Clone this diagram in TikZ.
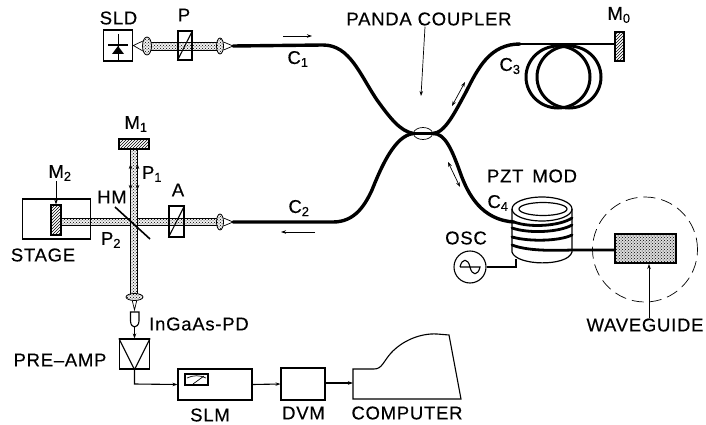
\documentclass[tikz,border=0pt]{standalone}
\usepackage{fontspec}
\setmainfont[LetterSpace=4,FakeBold=0.35]{Liberation Sans}
\usepackage{tikz}
\usetikzlibrary{calc,arrows.meta,patterns,shapes.geometric}

\begin{document}
\begin{tikzpicture}[x=1pt, y=-1pt, >={Stealth[length=5pt,width=3.5pt]},
  lab/.style={font=\fontsize{18.5}{18.5}\selectfont, inner sep=0pt},
  unit/.style={draw, line width=1.1pt, inner sep=0pt},
  fibre/.style={line width=3.4pt, line cap=round},
  thinline/.style={line width=0.7pt},
  dotted fill/.style={preaction={fill=black!6}, pattern=crosshatch dots},
  beam/.style={draw, line width=0.7pt, dotted fill},
  lens/.style={draw, ellipse, line width=0.8pt, inner sep=0pt, dotted fill},
  mirror/.style={unit, pattern=north east lines},
  wire/.style={line width=1.1pt}]
  \useasboundingbox (0,0) rectangle (706,425);

  % Beams
  \path[beam] (147,42) rectangle (220,50);
  \path[beam] (61,218) rectangle (220,225);
  \path[beam] (130,149) rectangle (137.5,294);

  % Source arm
  \node[unit, minimum width=29.5pt, minimum height=31pt] (sld) at (118,45.5) {};
  \node[lab] (sldlab) at (118.5,18) {SLD};
  \node[unit, minimum width=14pt, minimum height=29pt] (pol) at (185,45.5) {};
  \node[lab] (pollab) at (184,15) {P};
  \draw[wire] (pol.south west) -- (pol.north east);
  \node[lens, minimum width=9pt, minimum height=18pt] (lensa) at (147,46) {};
  \node[lens, minimum width=7pt, minimum height=16pt] (lensb) at (220,46) {};
  \coordinate (tipb) at (233,46);
  \draw[thinline] (lensa.130) -- (sld.east) -- (lensa.230);
  \draw[thinline] (lensb.50) -- (tipb) -- (lensb.-50);
  % Diode
  \draw[thinline] (118,34) -- (118,60);
  \draw[wire] (108,45) -- (128,45);
  \fill (118,46) -- (124,54) -- (112,54) -- cycle;

  % Reference arm
  \node[mirror, minimum width=30pt, minimum height=10pt] (mone) at (134,144) {};
  \node[lab] (monelab) at (136,124) {M\textsubscript{1}};
  \draw[<->, thinline] (130.5,164) -- (130.5,190);
  \draw[<->, thinline] (137.5,164) -- (137.5,190);
  \node[lab] (ponelab) at (152,174) {P\textsubscript{1}};
  \node[lab] (hmlab) at (112,197) {HM};
  \coordinate (hma) at (115,207);
  \coordinate (hmb) at (150,239);
  \draw[line width=1.6pt] (hma) -- (hmb);

  % Stage arm
  \node[unit, minimum width=68pt, minimum height=40pt] (stage) at (56.5,219) {};
  \node[mirror, minimum width=10pt, minimum height=30pt] (mtwo) at (56,220) {};
  \node[lab] (mtwolab) at (60,173) {M\textsubscript{2}};
  \draw[->, thinline] (mtwolab.south -| mtwo) -- (mtwo.north);
  \node[lab] (ptwolab) at (111,240) {P\textsubscript{2}};
  \node[lab] (stagelab) at (43,255) {STAGE};
  \node[unit, minimum width=15pt, minimum height=31pt] (ana) at (176.5,221.5) {};
  \node[lab] (analab) at (178,190) {A};
  \draw[wire] (ana.south west) -- (ana.north east);
  \node[lens, minimum width=7pt, minimum height=16pt] (lensc) at (220,222) {};
  \coordinate (tipc) at (233,222);
  \draw[thinline] (lensc.50) -- (tipc) -- (lensc.-50);

  % Fibres and coupler
  \node[draw, ellipse, thinline, minimum width=19pt, minimum height=12pt, inner sep=0pt] (coupler) at (423,133.5) {};
  \draw[fibre] (tipb) -- (323,45) .. controls (350,45) and (360,75) .. (377,100)
    .. controls (390,118) and (400,131) .. (coupler.west);
  \draw[fibre] (tipc) -- (333,222) .. controls (355,222) and (365,205) .. (372,190)
    .. controls (382,165) and (395,136) .. (coupler.west);
  \draw[fibre] (coupler.west) -- (coupler.east);
  \draw[fibre] (coupler.east) .. controls (445,133) and (455,112) .. (466,92)
    .. controls (478,68) and (490,44) .. (520,44);
  \coordinate (cfour) at (514,222);
  \draw[fibre] (coupler.east) .. controls (445,133) and (452,150) .. (460,172)
    .. controls (468,195) and (482,220) .. (cfour);
  \node[lab] (panda) at (429,19) {PANDA COUPLER};
  \coordinate (pandatip) at (421,96);
  \draw[->, thinline] (panda.south) ++(-4,1) -- (pandatip);
  \node[lab] (conelab) at (298,59) {C\textsubscript{1}};
  \node[lab] (ctwolab) at (299,208) {C\textsubscript{2}};
  \node[lab] (cthreelab) at (510,66) {C\textsubscript{3}};
  \node[lab] (cfourlab) at (498,203) {C\textsubscript{4}};
  \draw[->, thinline] (283,36) -- (312,36);
  \draw[->, thinline] (315,232) -- (281,232);
  \draw[<->, thinline] (452,106) -- (465,82);
  \draw[<->, thinline] (448,162) -- (460,187);

  % Delay coil
  \node[mirror, minimum width=9pt, minimum height=29pt] (mzero) at (619.5,46.5) {};
  \node[lab] (mzerolab) at (619,15) {M\textsubscript{0}};
  \coordinate (cthreeend) at (518,44);
  \draw[line width=2.6pt] (cthreeend) -- (cthreeend -| mzero.west);
  \draw[line width=3pt] (558,77) ellipse (32 and 31);
  \draw[line width=3pt] (569,77) ellipse (32 and 31);

  % PZT modulator
  \node[lab] (pztlab) at (532,176) {PZT\, MOD};
  \draw[line width=1.2pt] (542,209) ellipse (30 and 12);
  \draw[line width=1.2pt] (543,209) ellipse (24 and 6.5);
  \draw[line width=1.2pt] (512,209) -- (512,252) .. controls (516,266) and (568,267) .. (572,252) -- (572,209);
  \draw[fibre, line width=2.8pt] (cfour) .. controls (530,228) and (560,226) .. (572,218);
  \draw[fibre, line width=2.8pt] (512,228) .. controls (530,234) and (560,232) .. (572,225);
  \draw[fibre, line width=2.8pt] (512,237) .. controls (530,242) and (560,241) .. (572,235);
  \node[unit, preaction={fill=black!14}, pattern=crosshatch dots, minimum width=61pt, minimum height=29pt] (guide) at (645.5,248.5) {};
  \coordinate (coilout) at (572,250);
  \draw[fibre, line width=2.8pt] (512,245) .. controls (525,250) and (545,251) .. (coilout) -- (coilout -| guide.west);
  \node[lab] (guidelab) at (645,325) {WAVEGUIDE};
  \coordinate (guidetip) at (649,264);
  \draw[->, thinline] (guidetip |- guidelab.north) -- (guidetip);
  \node[draw, circle, dash pattern=on 12pt off 6pt, thinline, minimum size=105pt, inner sep=0pt] (ring) at (645,249.5) {};

  % Oscillator
  \node[draw, circle, wire, minimum size=32pt, inner sep=0pt] (osc) at (470,267) {};
  \node[lab] (osclab) at (466,238) {OSC};
  \coordinate (pztin) at (516,259);
  \draw[wire] (osc.east) -| (pztin);
  \draw[wire] ($(osc)+(-10,0)$) .. controls ($(osc)+(-8,-9)$) and ($(osc)+(-2,-9)$) .. (osc.center)
    .. controls ($(osc)+(2,9)$) and ($(osc)+(8,9)$) .. ($(osc)+(10,0)$) -- ($(osc)+(-10,0)$);

  % Detection chain
  \node[lens, minimum width=17pt, minimum height=7pt] (lensd) at (134.5,297) {};
  \coordinate (tipd) at (134.5,310);
  \draw[thinline] (lensd.-120) -- (tipd) -- (lensd.-60);
  \draw[wire] (130.5,312) -- (139,312) -- (139,321) .. controls (139,325) and (136,327) .. (134.5,327)
    .. controls (133,327) and (130.5,325) .. (130.5,321) -- cycle;
  \node[lab] (pdlab) at (199,324) {InGaAs-PD};
  \node[unit, minimum width=30pt, minimum height=30pt] (preamp) at (134.5,354) {};
  \node[lab] (prelab) at (60,360) {PRE--AMP};
  \draw[wire] (preamp.north west) -- (preamp.south) -- (preamp.north east);
  \draw[->, thinline] (134.5,327) -- (preamp.north);
  \node[unit, minimum width=74pt, minimum height=31pt] (slm) at (215,384.5) {};
  \node[lab] (slmlab) at (210,415) {SLM};
  \node[unit, minimum width=44pt, minimum height=32pt] (dvm) at (303,384) {};
  \node[lab] (dvmlab) at (303.5,413) {DVM};
  \coordinate (compin) at (353,383);
  \draw[line width=1.1pt] (353,369) -- (374,369) .. controls (382,369) and (383,362) .. (391,353)
    .. controls (402,341) and (420,333) .. (437,334) -- (449,335) -- (461,399) -- (353,399) -- cycle;
  \node[lab] (complab) at (407,413) {COMPUTER};
  \draw[->, wire] (preamp.south) -- (134.5,384) -- (slm.west);
  \draw[->, wire] (slm.east) -- (dvm.west);
  \draw[->, wire] (dvm.east |- compin) -- (compin);
  % Meter
  \draw[wire] (185,374) rectangle (208,385);
  \draw[thinline] (187,378) .. controls (193,375) and (200,375) .. (206,378);
  \draw[thinline] (193,384) -- (204,376);
\end{tikzpicture}
\end{document}
